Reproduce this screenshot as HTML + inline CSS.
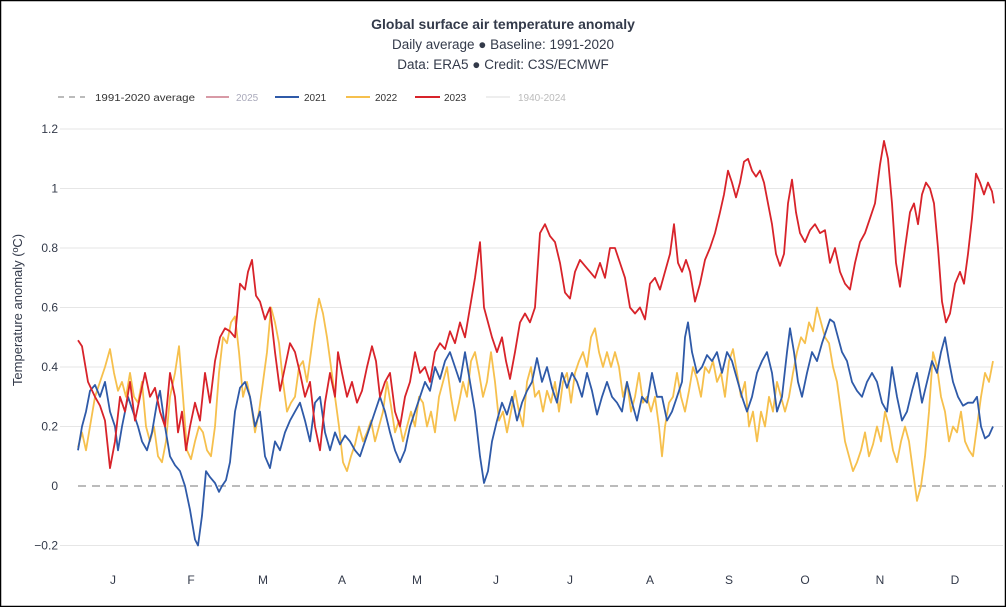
<!DOCTYPE html>
<html><head><meta charset="utf-8"><style>
html,body{margin:0;padding:0;background:#fff}
svg{display:block;font-family:"Liberation Sans",sans-serif}
</style></head><body>
<svg id="s" width="1006" height="607" xmlns="http://www.w3.org/2000/svg">
<rect x="0.5" y="0.5" width="1005" height="606" fill="#fff" stroke="#000" stroke-width="1.5"/>
<text x="503" y="29" text-anchor="middle" font-size="14" font-weight="bold" fill="#333a4a">Global surface air temperature anomaly</text>
<text x="503" y="49" text-anchor="middle" font-size="13.5" fill="#333a4a">Daily average ● Baseline: 1991-2020</text>
<text x="503" y="69" text-anchor="middle" font-size="13.5" fill="#333a4a">Data: ERA5 ● Credit: C3S/ECMWF</text>
<g font-size="10">
<line x1="58" y1="97" x2="85" y2="97" stroke="#bbb" stroke-width="2" stroke-dasharray="6,5"/>
<text x="95" y="101" fill="#333" textLength="100" lengthAdjust="spacingAndGlyphs">1991-2020 average</text>
<line x1="206" y1="97" x2="229" y2="97" stroke="#d89aa6" stroke-width="2"/>
<text x="236" y="101" fill="#aab">2025</text>
<line x1="275" y1="97" x2="299" y2="97" stroke="#2f5aa8" stroke-width="2"/>
<text x="304" y="101" fill="#333">2021</text>
<line x1="346" y1="97" x2="370" y2="97" stroke="#f6c04d" stroke-width="2"/>
<text x="375" y="101" fill="#333">2022</text>
<line x1="415" y1="97" x2="440" y2="97" stroke="#d8232a" stroke-width="2"/>
<text x="444" y="101" fill="#333">2023</text>
<line x1="486" y1="97" x2="510" y2="97" stroke="#eee" stroke-width="2"/>
<text x="518" y="101" fill="#bbb">1940-2024</text>
</g>
<g id="grid"></g>
<text transform="translate(22,310) rotate(-90)" text-anchor="middle" font-size="13" fill="#333a4a">Temperature anomaly (ºC)</text>
<g id="series" fill="none" stroke-width="1.8" stroke-linejoin="round"></g>
</svg>
<script>
var NS="http://www.w3.org/2000/svg";
function Y(v){return 486-297.5*v;}
var g=document.getElementById("grid");
function el(p,t,a,txt){var e=document.createElementNS(NS,t);for(var k in a)e.setAttribute(k,a[k]);if(txt!==undefined)e.textContent=txt;p.appendChild(e);return e;}
[1.2,1,0.8,0.6,0.4,0.2,-0.2].forEach(function(v){
 el(g,"line",{x1:60,x2:1003,y1:Y(v),y2:Y(v),stroke:"#e6e6e6","stroke-width":1});
});
[[1.2,"1.2"],[1,"1"],[0.8,"0.8"],[0.6,"0.6"],[0.4,"0.4"],[0.2,"0.2"],[0,"0"],[-0.2,"−0.2"]].forEach(function(a){
 el(g,"text",{x:58,y:Y(a[0])+4,"text-anchor":"end","font-size":"12",fill:"#333a4a"},a[1]);
});
["J","F","M","A","M","J","J","A","S","O","N","D"].forEach(function(m,i){
 var xs=[113,191,263,342,417,496,570,650,729,805,880,955];
 el(g,"text",{x:xs[i],y:584,"text-anchor":"middle","font-size":"12",fill:"#333a4a"},m);
});
el(g,"line",{x1:78,x2:1003,y1:486,y2:486,stroke:"#bbb","stroke-width":2,"stroke-dasharray":"8,6"});
var red=[78,0.49,82,0.47,88,0.35,95,0.3,100,0.27,105,0.22,110,0.06,115,0.15,120,0.3,125,0.25,130,0.35,135,0.22,140,0.3,145,0.38,150,0.3,155,0.33,160,0.25,165,0.2,170,0.38,175,0.3,178,0.18,182,0.25,186,0.12,190,0.2,195,0.28,200,0.22,205,0.38,210,0.28,215,0.42,220,0.5,225,0.53,230,0.52,235,0.5,240,0.68,245,0.66,248,0.72,252,0.76,256,0.64,260,0.62,265,0.56,270,0.6,275,0.45,280,0.32,285,0.4,290,0.48,295,0.45,300,0.38,305,0.3,310,0.35,315,0.2,320,0.12,325,0.28,330,0.38,335,0.3,338,0.45,342,0.38,347,0.3,352,0.35,357,0.28,362,0.32,367,0.4,372,0.47,376,0.42,380,0.3,385,0.35,390,0.38,395,0.25,400,0.2,405,0.3,410,0.35,415,0.45,420,0.38,425,0.4,430,0.35,435,0.45,440,0.48,445,0.46,450,0.52,455,0.48,460,0.55,465,0.5,470,0.6,475,0.7,480,0.82,484,0.6,488,0.55,492,0.5,497,0.45,502,0.5,506,0.42,510,0.36,515,0.45,520,0.55,525,0.58,530,0.55,535,0.6,540,0.85,545,0.88,550,0.84,555,0.82,560,0.75,565,0.65,570,0.63,575,0.72,580,0.76,585,0.74,590,0.72,595,0.7,600,0.75,605,0.7,610,0.8,615,0.8,620,0.75,625,0.7,630,0.6,635,0.58,640,0.6,645,0.56,650,0.68,655,0.7,660,0.66,665,0.72,670,0.78,674,0.88,678,0.75,682,0.72,686,0.76,690,0.72,695,0.62,700,0.68,705,0.76,710,0.8,715,0.85,720,0.92,724,0.98,728,1.06,732,1.02,736,0.97,740,1.02,744,1.09,748,1.1,752,1.06,756,1.04,760,1.06,764,1.02,768,0.95,772,0.88,776,0.78,780,0.74,784,0.78,788,0.95,792,1.03,796,0.92,800,0.85,805,0.82,810,0.86,815,0.88,820,0.85,825,0.86,830,0.75,835,0.8,840,0.72,845,0.68,850,0.66,855,0.75,860,0.82,865,0.85,870,0.9,875,0.95,880,1.08,884,1.16,888,1.1,892,0.95,896,0.75,900,0.67,905,0.8,910,0.92,914,0.95,918,0.88,922,0.98,926,1.02,930,1.0,934,0.95,938,0.8,942,0.62,946,0.55,950,0.58,955,0.68,960,0.72,964,0.68,968,0.78,972,0.9,976,1.05,980,1.02,984,0.98,988,1.02,992,0.99,994,0.95];
var blue=[78,0.12,82,0.2,86,0.25,90,0.32,95,0.34,100,0.3,105,0.35,110,0.25,115,0.2,118,0.12,122,0.2,128,0.3,133,0.25,138,0.2,142,0.15,147,0.12,152,0.18,157,0.28,160,0.32,165,0.2,170,0.1,175,0.07,180,0.05,185,0.0,190,-0.08,195,-0.18,198,-0.2,202,-0.1,206,0.05,210,0.03,215,0.01,219,-0.02,222,0.0,226,0.02,230,0.08,235,0.25,240,0.33,245,0.35,250,0.3,255,0.2,260,0.25,265,0.1,270,0.06,275,0.15,280,0.12,285,0.18,290,0.22,295,0.25,300,0.28,305,0.22,310,0.15,315,0.28,320,0.3,325,0.18,330,0.12,335,0.18,340,0.14,345,0.17,350,0.15,355,0.12,360,0.1,365,0.15,370,0.2,375,0.25,380,0.3,385,0.25,390,0.18,395,0.12,400,0.08,405,0.12,410,0.2,415,0.25,420,0.3,425,0.35,430,0.32,435,0.4,440,0.36,445,0.42,450,0.45,455,0.4,460,0.35,465,0.45,470,0.35,475,0.25,480,0.1,484,0.01,488,0.05,492,0.15,497,0.22,502,0.28,507,0.24,512,0.3,517,0.22,522,0.28,527,0.32,532,0.35,537,0.43,542,0.35,547,0.4,552,0.33,557,0.28,562,0.38,567,0.33,572,0.38,577,0.35,582,0.3,587,0.38,592,0.32,597,0.24,602,0.3,607,0.35,612,0.3,617,0.28,622,0.25,627,0.35,632,0.28,637,0.22,642,0.3,647,0.28,652,0.38,657,0.3,662,0.3,667,0.22,672,0.25,677,0.3,682,0.35,685,0.5,688,0.55,692,0.45,697,0.38,702,0.4,707,0.44,712,0.42,717,0.45,722,0.38,727,0.45,732,0.42,737,0.36,742,0.3,747,0.25,752,0.3,757,0.38,762,0.42,767,0.45,772,0.38,777,0.25,782,0.3,787,0.45,790,0.53,794,0.45,798,0.35,802,0.3,807,0.38,812,0.45,817,0.42,822,0.48,826,0.52,830,0.56,834,0.55,838,0.5,842,0.45,847,0.42,852,0.35,857,0.32,862,0.3,867,0.35,872,0.38,877,0.35,882,0.28,887,0.25,892,0.4,897,0.3,902,0.22,907,0.25,912,0.32,917,0.38,922,0.28,927,0.35,932,0.42,937,0.38,941,0.45,945,0.5,949,0.42,953,0.35,958,0.3,963,0.27,968,0.28,973,0.28,977,0.3,981,0.2,985,0.16,989,0.17,993,0.2];
var yel=[78,0.13,82,0.18,86,0.12,90,0.2,95,0.3,100,0.35,105,0.4,110,0.46,114,0.38,118,0.32,122,0.35,126,0.3,130,0.38,134,0.3,138,0.28,142,0.35,146,0.2,150,0.15,154,0.2,158,0.1,162,0.08,166,0.15,170,0.3,175,0.38,179,0.47,183,0.3,187,0.12,191,0.09,195,0.15,199,0.2,203,0.18,207,0.12,211,0.1,215,0.2,219,0.38,223,0.5,227,0.48,231,0.55,235,0.57,239,0.45,243,0.3,247,0.35,251,0.28,255,0.18,259,0.25,263,0.35,267,0.45,271,0.6,275,0.55,279,0.48,283,0.35,287,0.25,291,0.28,295,0.3,299,0.4,303,0.42,307,0.35,311,0.45,315,0.55,319,0.63,323,0.58,327,0.5,331,0.4,335,0.3,339,0.2,343,0.08,347,0.05,351,0.1,355,0.14,359,0.2,363,0.15,367,0.18,371,0.22,375,0.15,379,0.2,383,0.25,387,0.35,391,0.27,395,0.18,399,0.22,403,0.15,407,0.2,411,0.25,415,0.2,419,0.3,423,0.28,427,0.2,431,0.25,435,0.18,439,0.3,443,0.35,447,0.4,451,0.3,455,0.22,459,0.28,463,0.35,467,0.3,471,0.42,475,0.45,479,0.38,483,0.3,487,0.35,491,0.45,495,0.35,499,0.22,503,0.25,507,0.18,511,0.25,515,0.32,519,0.25,523,0.2,527,0.35,531,0.4,535,0.3,539,0.32,543,0.25,547,0.32,551,0.28,555,0.35,559,0.25,563,0.35,567,0.38,571,0.28,575,0.38,579,0.42,583,0.45,587,0.4,591,0.5,595,0.53,599,0.45,603,0.4,607,0.45,611,0.4,615,0.45,619,0.4,623,0.3,627,0.35,631,0.25,635,0.3,639,0.38,643,0.28,647,0.3,651,0.25,655,0.3,659,0.2,662,0.1,665,0.2,669,0.28,673,0.3,677,0.38,681,0.3,685,0.25,689,0.32,693,0.4,697,0.36,701,0.3,705,0.4,709,0.38,713,0.42,717,0.35,721,0.38,725,0.3,729,0.42,733,0.46,737,0.38,741,0.3,745,0.35,749,0.2,753,0.25,757,0.15,761,0.25,765,0.2,769,0.3,773,0.25,777,0.35,781,0.3,785,0.25,789,0.3,793,0.38,797,0.45,801,0.5,805,0.48,809,0.55,813,0.52,817,0.6,821,0.55,825,0.5,829,0.48,833,0.4,837,0.35,841,0.25,845,0.15,849,0.1,853,0.05,857,0.08,861,0.12,865,0.18,869,0.1,873,0.14,877,0.2,881,0.15,885,0.25,889,0.2,893,0.12,897,0.08,901,0.15,905,0.2,909,0.15,913,0.05,917,-0.05,921,0.0,925,0.1,929,0.25,933,0.45,937,0.4,941,0.3,945,0.25,949,0.15,953,0.2,957,0.18,961,0.25,965,0.15,969,0.12,973,0.1,977,0.2,981,0.3,985,0.38,989,0.35,993,0.42];
var s=document.getElementById("series");
function line(d,c){var p=[];for(var i=0;i<d.length;i+=2)p.push(d[i]+","+Y(d[i+1]).toFixed(1));el(s,"polyline",{points:p.join(" "),stroke:c});}
line(yel,"#f6c04d");line(blue,"#2f5aa8");line(red,"#d8232a");
</script>
</body></html>
